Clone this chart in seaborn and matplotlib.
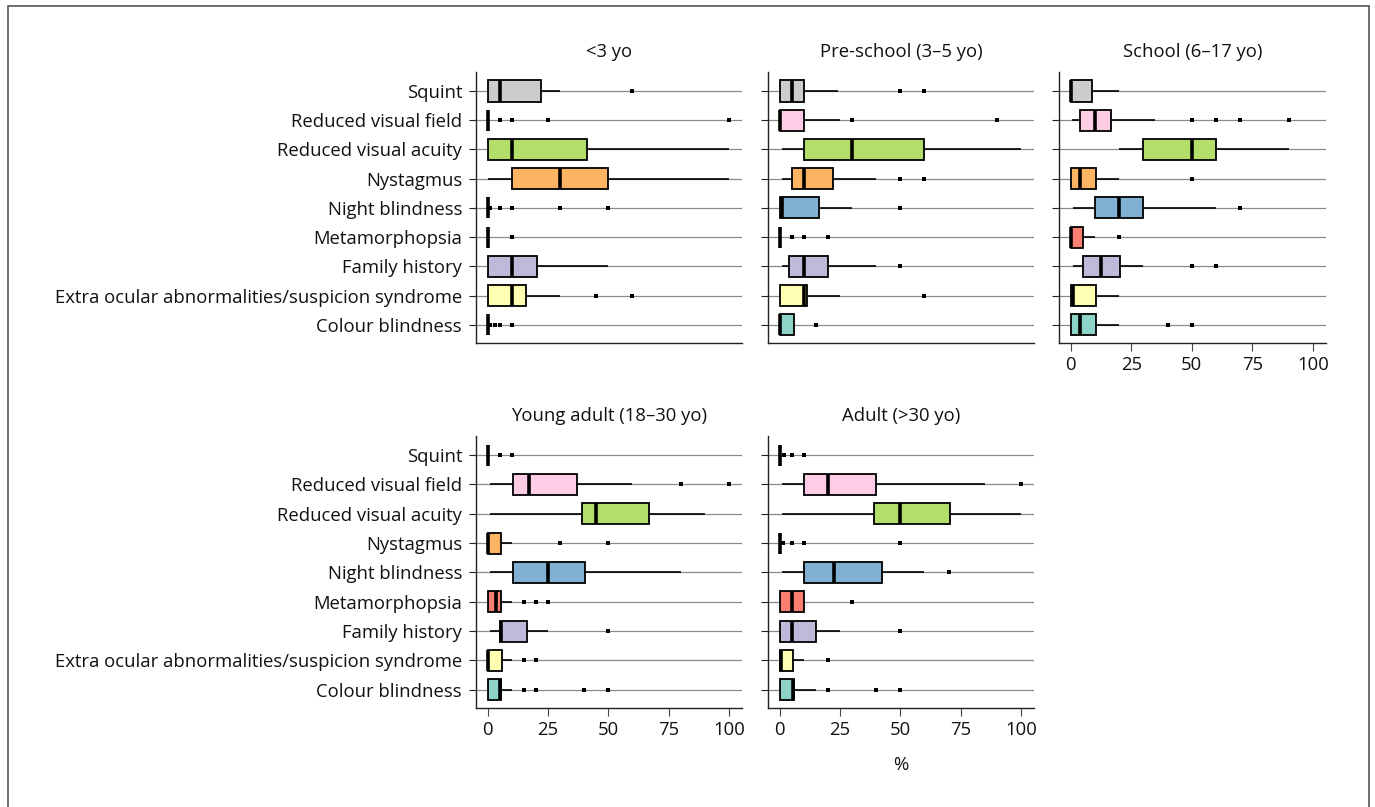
import matplotlib
matplotlib.use("Agg")
import matplotlib.pyplot as plt
from matplotlib.patches import Rectangle
import seaborn as sns
import pandas as pd

# ---------------- data ----------------
symptoms = ["Squint", "Reduced visual field", "Reduced visual acuity", "Nystagmus",
            "Night blindness", "Metamorphopsia", "Family history",
            "Extra ocular abnormalities/suspicion syndrome", "Colour blindness"]
groups = ["<3 yo", "Pre-school (3\u20135 yo)", "School (6\u201317 yo)",
          "Young adult (18\u201330 yo)", "Adult (>30 yo)"]
colors = ["#cccccc", "#fccde5", "#b3de69", "#fdb462", "#80b1d3",
          "#fb8072", "#bebada", "#ffffb3", "#8dd3c7"]

# five-number summaries: (lower whisker, Q1, median, Q3, upper whisker)
under3_box = [(0, 0, 5, 22, 30), (0, 0, 0, 0, 0), (0, 0, 10, 41, 100),
              (0, 10, 30, 50, 100), (0, 0, 0, 0, 0), (0, 0, 0, 0, 0),
              (0, 0, 10, 20.5, 50), (0, 0, 10, 16, 30), (0, 0, 0, 0, 0)]
under3_fliers = [[60], [5, 10, 25, 100], [], [], [1, 5, 10, 30, 50], [10],
                 [], [45, 60], [1, 3, 5, 10]]

preschool_box = [(0, 0, 5, 10, 24), (0, 0, 0, 10, 25), (1, 10, 30, 60, 100),
                 (1, 5, 10, 22, 40), (0, 0, 1, 16.5, 30), (0, 0, 0, 0, 0),
                 (1, 4, 10, 20, 40), (0, 0, 10, 11.5, 25), (0, 0, 0, 6, 6)]
preschool_fliers = [[50, 60], [30, 90], [], [50, 60], [50], [5, 10, 20],
                    [50], [60], [15]]

school_box = [(0, 0, 0, 9, 20), (0.5, 4, 10, 16.5, 35), (20, 30, 50, 60, 90),
              (0, 0, 4, 10.5, 20), (1, 10, 20, 30, 60), (0, 0, 0, 5, 10),
              (1, 5, 12.5, 20.5, 30), (0, 0, 1, 10.5, 20), (0, 0, 4, 10.5, 20)]
school_fliers = [[], [50, 60, 70, 90], [], [50], [70], [20], [50, 60], [],
                 [40, 50]]

young_box = [(0, 0, 0, 0, 0), (1, 10.5, 17, 37, 60), (1, 39, 45, 67, 90),
             (0, 0, 0, 5.5, 10), (1, 10.5, 25, 40.5, 80), (0, 0, 3.5, 5.5, 10),
             (1, 5, 5.5, 16.5, 25), (0, 0, 0, 6, 10), (0, 0, 5, 5.5, 10)]
young_fliers = [[5, 10], [80, 100], [], [30, 50], [], [15, 20, 25], [50],
                [15, 20], [15, 20, 40, 50]]

adult_box = [(0, 0, 0, 0, 0), (1, 10, 20, 40, 85), (1, 39, 50, 70.5, 100),
             (0, 0, 0, 0, 0), (1, 10, 22.5, 42.5, 60), (0, 0, 5, 10, 10),
             (0, 0, 5, 15, 25), (0, 0, 0.5, 5.5, 10), (0, 0, 5.5, 6, 15)]
adult_fliers = [[2, 5, 10], [100], [], [1.5, 5, 10, 50], [70], [30], [50],
                [20], [20, 40, 50]]

xticks = [0, 25, 50, 75, 100]

# ---------------- style ----------------
sns.set_theme(style="white")
plt.rcParams["font.family"] = ["Open Sans", "DejaVu Sans"]
plt.rcParams["text.color"] = "#111111"
plt.rcParams["axes.labelcolor"] = "#111111"
plt.rcParams["xtick.color"] = "#111111"
plt.rcParams["ytick.color"] = "#111111"
FS = 13.3

fig = plt.figure(figsize=(13.75, 8.07), dpi=100)
W, H = 1375, 807


def pos(x0, x1, y0, y1):
    return [x0 / W, 1 - y1 / H, (x1 - x0) / W, (y1 - y0) / H]


panels = [
    (groups[0], under3_box, under3_fliers, pos(476, 742, 72, 343), True, False),
    (groups[1], preschool_box, preschool_fliers, pos(768, 1034, 72, 343), False, False),
    (groups[2], school_box, school_fliers, pos(1059, 1326, 72, 343), False, True),
    (groups[3], young_box, young_fliers, pos(476, 742, 436, 708), True, True),
    (groups[4], adult_box, adult_fliers, pos(768, 1034, 436, 708), False, True),
]

for title, box, fliers, p, ylab, xlab in panels:
    ax = fig.add_axes(p)
    rows = []
    for s, stats in zip(symptoms, box):
        for v in stats:
            rows.append({"symptom": s, "value": v})
    df = pd.DataFrame(rows)
    frows = []
    for s, fl in zip(symptoms, fliers):
        for v in fl:
            frows.append({"symptom": s, "value": v})
    fdf = pd.DataFrame(frows)

    sns.boxplot(data=df, x="value", y="symptom", hue="symptom", order=symptoms,
                hue_order=symptoms, palette=colors, saturation=1, whis=(0, 100),
                showfliers=False, width=0.72, linecolor="black", linewidth=1.3,
                medianprops=dict(linewidth=2.6, color="black"),
                whiskerprops=dict(linewidth=1.2, color="black"),
                capprops=dict(linewidth=0), legend=False, ax=ax)
    sns.stripplot(data=fdf, x="value", y="symptom", order=symptoms, jitter=False,
                  marker="s", color="black", size=3.0, linewidth=0, ax=ax)

    ax.grid(axis="y", color="#8a8a8a", linewidth=0.9)
    ax.grid(axis="x", visible=False)
    ax.set_axisbelow(True)
    ax.set_xlim(-4.8, 105.4)
    ax.set_ylim(8.62, -0.65)
    ax.set_xticks(xticks)
    ax.set_xticklabels([str(t) for t in xticks])
    ax.set_xlabel("")
    ax.set_ylabel("")
    for sp in ["top", "right"]:
        ax.spines[sp].set_visible(False)
    for sp in ["left", "bottom"]:
        ax.spines[sp].set_color("#222222")
        ax.spines[sp].set_linewidth(1.0)
    ax.tick_params(axis="y", left=True, length=5, width=0.8, color="#222222",
                   labelsize=FS, pad=5, labelleft=ylab)
    if xlab:
        ax.tick_params(axis="x", bottom=True, length=5.5, width=0.8,
                       color="#444444", labelsize=FS, pad=4, labelbottom=True)
    else:
        ax.tick_params(axis="x", bottom=False, labelbottom=False)
    ax.set_title(title, fontsize=FS, pad=11)
    if title == groups[4]:
        ax.set_xlabel("%", fontsize=FS, labelpad=12)

fig.add_artist(Rectangle((8 / W, -0.05), (1369 - 8) / W, 1.05 - 6 / H,
                         transform=fig.transFigure, fill=False,
                         edgecolor="#555555", linewidth=1.2))

fig.savefig("out.png", dpi=100)
